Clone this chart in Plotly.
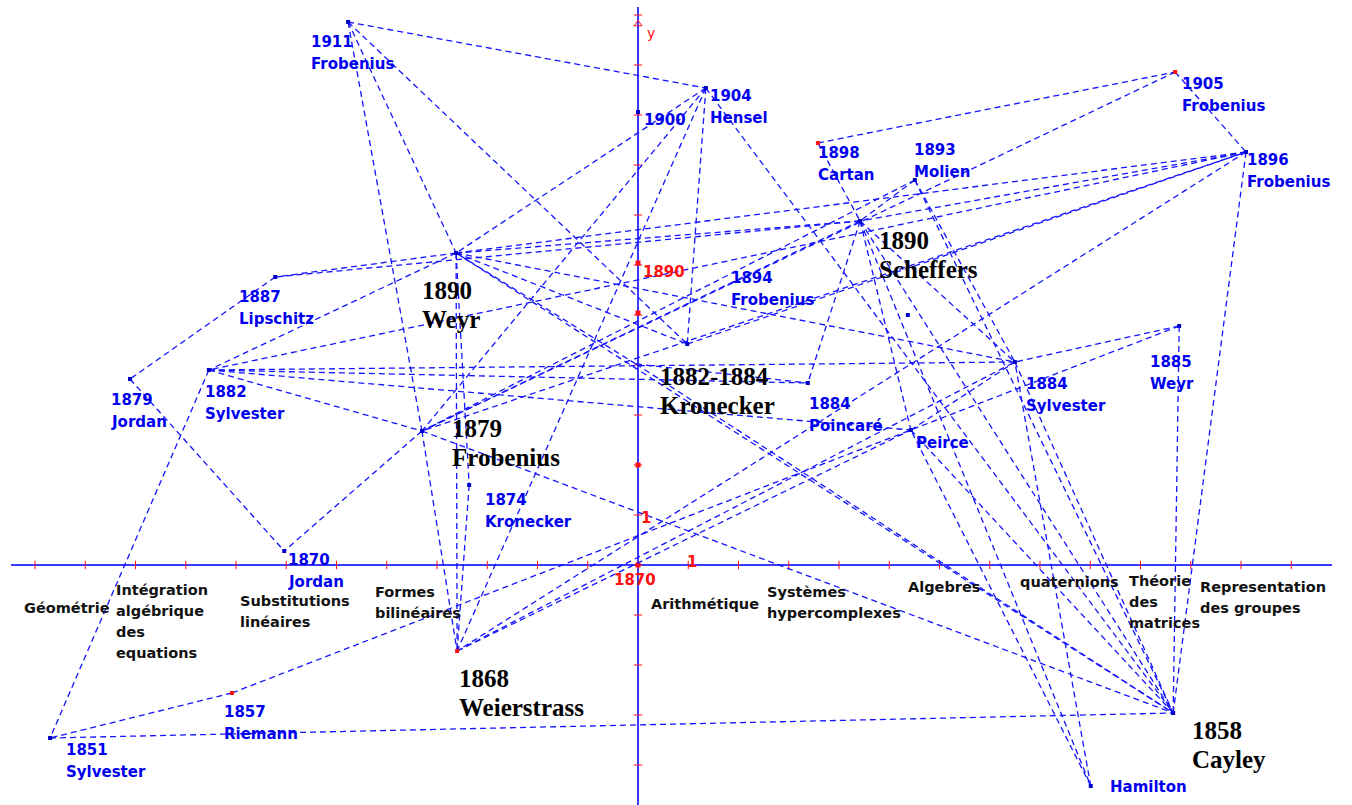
import plotly.graph_objects as go

# ---------------- data ----------------
# nodes: id, position (axis units: x = domain index, y = time scale, 1870 at 0)
node_ids = ["A", "B", "C", "D", "E", "F", "G", "H", "I", "J", "K", "L", "M",
            "N", "O", "P", "Q", "R", "S", "T", "U", "V", "W", "X", "Y", "Z"]
node_x = [-5.77, 1.35, 0.00, 3.58, 10.69, 12.10, 5.51, 4.42, -3.62, -7.22, -10.11, -8.54, -4.30,
          -3.36, -7.04, -3.60, -8.08, -11.70, 10.65, 9.01, 10.77, 7.50, 5.43, 3.38, 0.98, -0.04]
node_y = [10.86, 9.54, 9.06, 8.44, 9.86, 8.26, 7.70, 6.88, 6.24, 5.76, 3.72, 3.90, 2.68,
          1.60, 0.28, -1.72, -2.56, -3.46, -2.96, -4.42, 4.78, 4.06, 2.70, 3.64, 4.42, 4.02]
node_labels = [
    ["1911", "Frobenius"], ["1904", "Hensel"], ["1900"], ["1898", "Cartan"],
    ["1905", "Frobenius"], ["1896", "Frobenius"], ["1893", "Molien"], ["1890", "Scheffers"],
    ["1890", "Weyr"], ["1887", "Lipschitz"], ["1879", "Jordan"], ["1882", "Sylvester"],
    ["1879", "Frobenius"], ["1874", "Kronecker"], ["1870", "Jordan"], ["1868", "Weierstrass"],
    ["1857", "Riemann"], ["1851", "Sylvester"], ["1858", "Cayley"], ["Hamilton"],
    ["1885", "Weyr"], ["1884", "Sylvester"], ["Peirce"], ["1884", "Poincaré"],
    ["1894", "Frobenius"], ["1882-1884", "Kronecker"],
]
major_nodes = ["H", "I", "M", "P", "S", "Z"]
red_nodes = ["D", "E", "P", "Q"]
hidden_nodes = ["Z"]

extra_dot_x = [5.37]
extra_dot_y = [5.00]

edges = [
    ("A", "B"), ("A", "M"), ("A", "I"), ("A", "Y"),
    ("B", "I"), ("B", "M"), ("B", "P"), ("B", "Y"), ("B", "S"),
    ("D", "E"), ("D", "H"),
    ("E", "F"), ("E", "M"),
    ("F", "S"), ("F", "P"), ("F", "I"), ("F", "L"), ("F", "M"), ("F", "H"),
    ("G", "H"), ("G", "S"), ("G", "V"), ("G", "M"),
    ("H", "I"), ("H", "W"), ("H", "X"), ("H", "T"), ("H", "S"), ("H", "M"), ("H", "V"), ("H", "J"),
    ("I", "J"), ("I", "L"), ("I", "P"), ("I", "V"), ("I", "Y"), ("I", "S"), ("I", "N"),
    ("J", "K"), ("K", "O"),
    ("L", "R"), ("L", "M"), ("L", "V"), ("L", "X"), ("L", "W"),
    ("M", "O"), ("M", "P"), ("M", "S"),
    ("N", "P"), ("P", "W"), ("P", "V"),
    ("Q", "R"), ("Q", "U"), ("R", "S"),
    ("T", "V"), ("T", "W"),
    ("U", "V"), ("U", "S"),
    ("V", "S"), ("W", "S"), ("W", "V"),
    ("Y", "F"), ("Z", "I"), ("Z", "S"), ("Z", "X"),
]

# domains along the horizontal axis (x position in axis units)
domain_names = [
    ["Géométrie"], ["Intégration", "algébrique", "des", "equations"],
    ["Substitutions", "linéaires"], ["Formes", "bilinéaires"], ["Arithmétique"],
    ["Systèmes", "hypercomplexes"], ["Algebres"], ["quaternions"],
    ["Théorie", "des", "matrices"], ["Representation", "des groupes"],
]
domain_x = [-12.26, -10.43, -7.96, -5.27, 0.22, 2.53, 5.33, 7.56, 9.73, 11.14]
domain_y = [-0.86, -0.50, -0.72, -0.54, -0.78, -0.54, -0.44, -0.34, -0.32, -0.44]

x_ticks = list(range(-12, 14))
y_ticks = list(range(-4, 12))
axis_marks_y = [0.0, 2.0, 5.04, 6.04]

# ---------------- layout constants ----------------
W, H = 1352, 805
PX, PY = 50.25, 50.0          # pixels per unit
X0, Y0 = 638, 565             # origin in pixels
BLUE = "#1414ff"
AXIS_BLUE = "#3a3aff"
RED = "#ff1010"

def dx(p):
    return p / PX

def dy(p):
    return -p / PY

# label offsets (pixels from node: left edge, first line centre)
label_offset = {
    "A": (-39, 20), "B": (2, 8), "C": (4, 8), "D": (-2, 10), "E": (5, 12), "F": (-1, 8),
    "G": (-3, -30), "H": (17, 19), "I": (-36, 37), "J": (-38, 20), "K": (-21, 21),
    "L": (-6, 22), "M": (28, -3), "N": (14, 15), "O": (2, 9), "P": (0, 27),
    "Q": (-10, 19), "R": (14, 12), "S": (17, 17), "T": (17, 1), "U": (-31, 36),
    "V": (9, 22), "W": (3, 13), "X": (-1, 21), "Y": (42, -66), "Z": (22, 12),
}

pos = {k: (x, y) for k, x, y in zip(node_ids, node_x, node_y)}

fig = go.Figure()

# axes lines
fig.add_trace(go.Scatter(x=[dx(11 - X0), dx(1332 - X0)], y=[0, 0], mode="lines",
                         line=dict(color=AXIS_BLUE, width=2), hoverinfo="skip"))
fig.add_trace(go.Scatter(x=[0, 0], y=[dy(805 - Y0), dy(7 - Y0)], mode="lines",
                         line=dict(color=AXIS_BLUE, width=2), hoverinfo="skip"))
# ticks
fig.add_trace(go.Scatter(x=x_ticks, y=[0] * len(x_ticks), mode="markers",
                         marker=dict(symbol="line-ns", size=6, line=dict(color=RED, width=1)),
                         hoverinfo="skip"))
fig.add_trace(go.Scatter(x=[0] * len(y_ticks), y=y_ticks, mode="markers",
                         marker=dict(symbol="line-ew", size=6, line=dict(color=RED, width=1)),
                         hoverinfo="skip"))
fig.add_trace(go.Scatter(x=[0] * len(axis_marks_y), y=axis_marks_y, mode="markers",
                         marker=dict(symbol="square", size=5, color=RED), hoverinfo="skip"))
# arrow head of y axis
fig.add_trace(go.Scatter(x=[0], y=[dy(24 - Y0)], mode="markers",
                         marker=dict(symbol="triangle-up-open", size=7, color=RED,
                                     line=dict(color=RED, width=1)),
                         hoverinfo="skip"))

# edges
ex, ey = [], []
for a, b in edges:
    ex += [pos[a][0], pos[b][0], None]
    ey += [pos[a][1], pos[b][1], None]
fig.add_trace(go.Scatter(x=ex, y=ey, mode="lines",
                         line=dict(color=BLUE, width=1.3, dash="6px,4px"), hoverinfo="skip"))

# nodes
vis = [k for k in node_ids if k not in hidden_nodes]
fig.add_trace(go.Scatter(x=[pos[k][0] for k in vis], y=[pos[k][1] for k in vis], mode="markers",
                         marker=dict(symbol="square", size=4,
                                     color=[RED if k in red_nodes else "#0000c8" for k in vis]),
                         hoverinfo="skip"))
fig.add_trace(go.Scatter(x=extra_dot_x, y=extra_dot_y, mode="markers",
                         marker=dict(symbol="square", size=4, color="#0000c8"), hoverinfo="skip"))

ann = []
# node labels
for k, lines in zip(node_ids, node_labels):
    ox, oy = label_offset[k]
    major = k in major_nodes
    step = 29 if major else 22
    for i, t in enumerate(lines):
        ann.append(dict(
            x=pos[k][0] + dx(ox), y=pos[k][1] + dy(oy + i * step), text=t,
            xanchor="left", yanchor="middle", showarrow=False,
            font=dict(family="Liberation Serif" if major else "DejaVu Sans",
                      size=25 if major else 15, weight="bold",
                      color="black" if major else "#0000ee")))

# domain labels
for name, x, y in zip(domain_names, domain_x, domain_y):
    for i, t in enumerate(name):
        ann.append(dict(x=x, y=y + dy(i * 21), text=t, xanchor="left", yanchor="middle",
                        showarrow=False,
                        font=dict(family="DejaVu Sans", size=14.5, weight="bold", color="#111111")))

# red axis labels
red_font = dict(family="DejaVu Sans", size=15, weight="bold", color=RED)
ann.append(dict(x=dx(-3), y=dy(15), text="1870", xanchor="center", yanchor="middle",
                showarrow=False, font=red_font))
ann.append(dict(x=1 + dx(4), y=dy(-3), text="1", xanchor="center", yanchor="middle",
                showarrow=False, font=red_font))
ann.append(dict(x=dx(8), y=1 + dy(3), text="1", xanchor="center", yanchor="middle",
                showarrow=False, font=red_font))
ann.append(dict(x=dx(3), y=axis_marks_y[3] + dy(9), text="1890", xanchor="left", yanchor="middle",
                showarrow=False, font=red_font))
ann.append(dict(x=dx(13), y=dy(33 - Y0), text="y", xanchor="center", yanchor="middle",
                showarrow=False, font=dict(family="DejaVu Sans", size=14, color=RED)))

fig.update_layout(
    width=W, height=H, margin=dict(l=0, r=0, t=0, b=0),
    paper_bgcolor="white", plot_bgcolor="white", showlegend=False,
    xaxis=dict(range=[dx(-X0), dx(W - X0)], visible=False, fixedrange=True),
    yaxis=dict(range=[dy(H - Y0), dy(-Y0)], visible=False, fixedrange=True),
    annotations=ann,
)

fig.write_html("out.html", config={"displayModeBar": False},
               post_script="document.body.style.margin='0';document.body.style.overflow='hidden';")
